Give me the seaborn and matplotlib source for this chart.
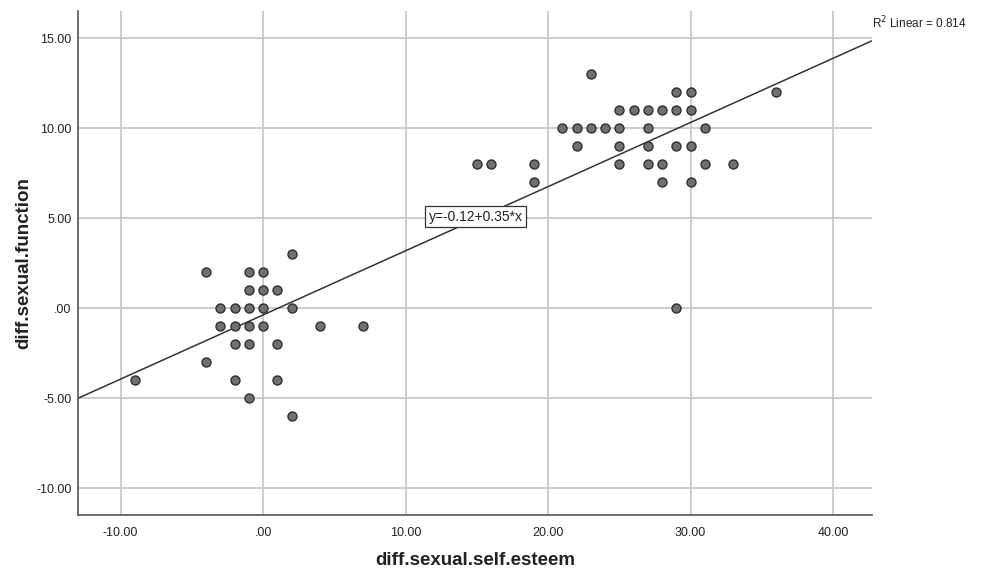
import numpy as np
import pandas as pd
import seaborn as sns
import matplotlib.pyplot as plt

# points (self esteem diff, sexual function diff)
esteem_left = [2, -4, -1, 0, -1, 0, 1, -3, -2, -1, 0, 2,
               -3, -2, -1, 0, 4, 7, -2, -1, 1, -4, -9, -2, 1, -1, 2]
function_left = [3, 2, 2, 2, 1, 1, 1, 0, 0, 0, 0, 0,
                 -1, -1, -1, -1, -1, -1, -2, -2, -2, -3, -4, -4, -4, -5, -6]

esteem_right = [23, 29, 30, 36, 25, 26, 27, 28, 29, 30,
                21, 22, 23, 24, 25, 27, 31, 22, 25, 27, 29, 30,
                15, 16, 19, 25, 27, 28, 31, 33, 19, 28, 30, 29]
function_right = [13, 12, 12, 12, 11, 11, 11, 11, 11, 11,
                  10, 10, 10, 10, 10, 10, 10, 9, 9, 9, 9, 9,
                  8, 8, 8, 8, 8, 8, 8, 8, 7, 7, 7, 0]

df = pd.DataFrame({
    "diff.sexual.self.esteem": esteem_left + esteem_right,
    "diff.sexual.function": function_left + function_right,
})

x_ticks = [-10, 0, 10, 20, 30, 40]
y_ticks = [-10, -5, 0, 5, 10, 15]
x_labels = ["-10.00", ".00", "10.00", "20.00", "30.00", "40.00"]
y_labels = ["-10.00", "-5.00", ".00", "5.00", "10.00", "15.00"]

sns.set_style("white")
plt.rcParams["font.family"] = ["Liberation Sans", "DejaVu Sans"]

fig = plt.figure(figsize=(9.86, 5.74), dpi=100)
ax = fig.add_axes([0.079, 0.102, 0.805, 0.878])
ax.set_xlim(-13, 42.7)
ax.set_ylim(-11.5, 16.5)

for v in x_ticks:
    ax.axvline(v, color="#c8c8c8", lw=1.3, zorder=0)
for v in y_ticks:
    ax.axhline(v, color="#c8c8c8", lw=1.3, zorder=0)

# fit line drawn by seaborn across the whole x range
sns.regplot(data=df, x="diff.sexual.self.esteem", y="diff.sexual.function",
            ax=ax, ci=None, truncate=False,
            scatter_kws=dict(s=42, color="#707070", edgecolor="#303030",
                             linewidths=1.0, alpha=1, zorder=3),
            line_kws=dict(color="#333333", lw=1.1, zorder=2))

ax.text(14.9, 5.1, "y=-0.12+0.35*x", ha="center", va="center", fontsize=10,
        color="#222222", zorder=4,
        bbox=dict(boxstyle="square,pad=0.25", fc="white", ec="#333333", lw=0.9))
ax.text(1.0, 0.978, "R$^2$ Linear = 0.814", transform=ax.transAxes,
        ha="left", va="center", fontsize=8.5, color="#222222")

ax.set_xticks(x_ticks)
ax.set_xticklabels(x_labels)
ax.set_yticks(y_ticks)
ax.set_yticklabels(y_labels)
ax.tick_params(axis="x", length=0, labelsize=9, colors="#222222", pad=8)
ax.tick_params(axis="y", length=0, labelsize=9, colors="#222222", pad=4.5)

ax.set_xlabel("diff.sexual.self.esteem", fontsize=13.5, fontweight="bold",
              color="#222222")
ax.set_ylabel("diff.sexual.function", fontsize=13.5, fontweight="bold",
              color="#222222")
ax.xaxis.set_label_coords(0.5, -0.073)
ax.yaxis.set_label_coords(-0.058, 0.5)

sns.despine(ax=ax)
for s in ["left", "bottom"]:
    ax.spines[s].set_color("#555555")
    ax.spines[s].set_linewidth(1.2)

fig.savefig("out.png", dpi=100)
